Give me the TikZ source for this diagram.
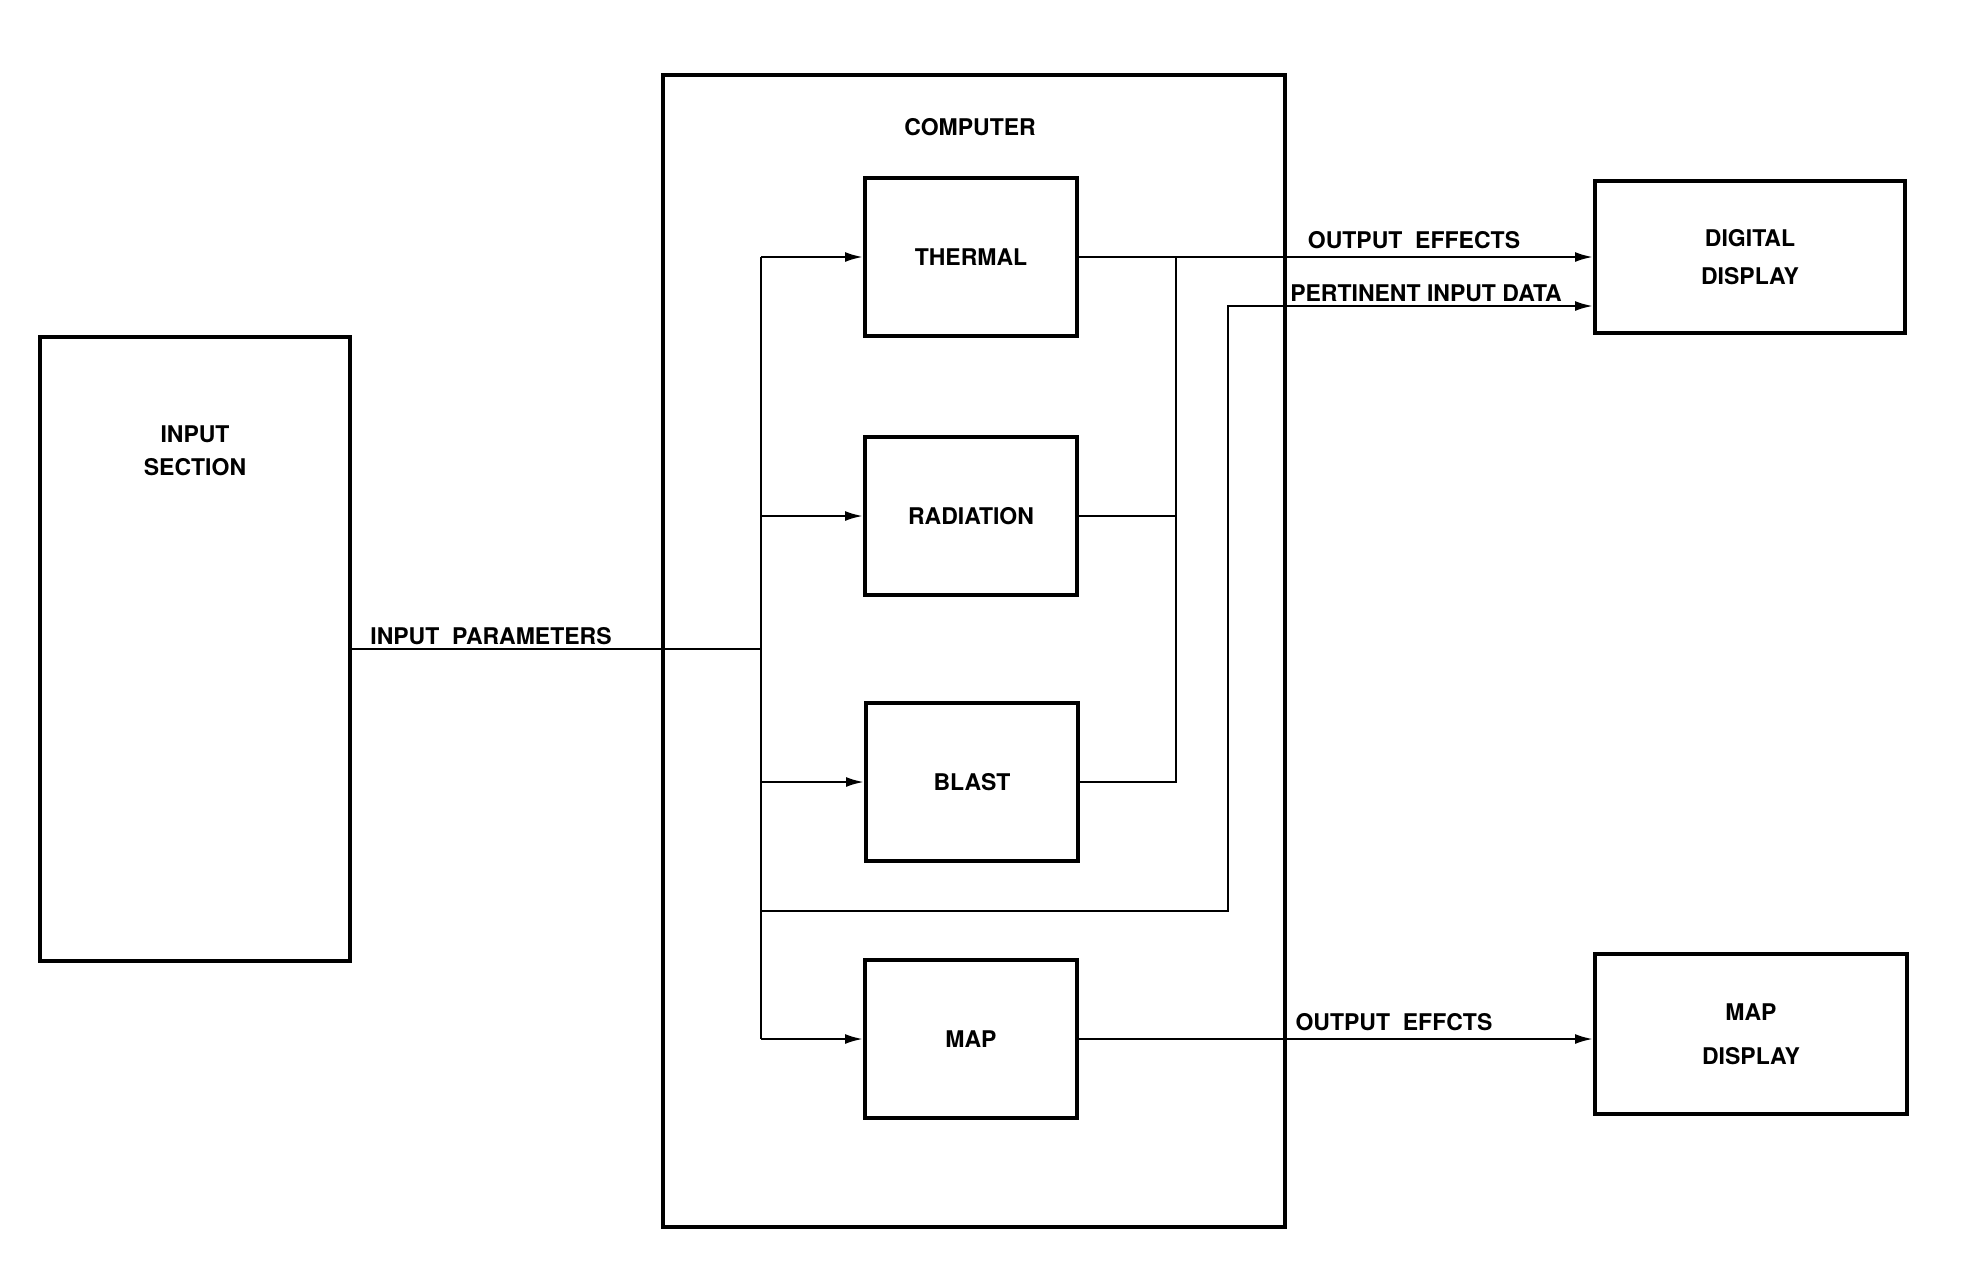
\documentclass[tikz,border=0pt]{standalone}
\usepackage{fontspec}
\setmainfont{TeX Gyre Heros}
\usetikzlibrary{arrows.meta}
\begin{document}
\begin{tikzpicture}[x=0.5pt,y=-0.5pt,
  box/.style={draw,line width=2pt,minimum width=106pt,minimum height=79pt,inner sep=0pt,font=\lbl},
  bigbox/.style={draw,line width=2pt,inner sep=0pt},
  conn/.style={line width=1.2pt},
  arr/.style={conn,-{Latex[length=9pt,width=5pt]}},
  txt/.style={font=\lbl,inner sep=0pt,align=center}]
\newcommand{\lbl}{\fontsize{11.5}{16.5}\selectfont\bfseries}
\useasboundingbox (0,0) rectangle (1972,1270);
% big boxes
\node[bigbox,minimum width=155pt,minimum height=312pt] (insec) at (195,649) {};
\node[bigbox,minimum width=311pt,minimum height=576pt] (comp) at (974,651) {};
\node[txt] (insecl) at (195,451) {INPUT\\SECTION};
\node[txt] (compl) at (970,127) {COMPUTER};
% inner boxes
\node[box] (thermal) at (971,257) {THERMAL};
\node[box] (rad) at (971,516) {RADIATION};
\node[box] (blast) at (972,782) {BLAST};
\node[box] (map) at (971,1039) {MAP};
% displays
\node[bigbox,minimum width=155pt,minimum height=76pt,font=\lbl,align=center] (dig) at (1750,257) {DIGITAL\\[2.5pt]DISPLAY};
\node[bigbox,minimum width=156pt,minimum height=80pt,font=\lbl,align=center] (mapd) at (1751,1034) {MAP\\[5.5pt]DISPLAY};
% coordinates
\coordinate (busT) at (761,257);
\coordinate (busM) at (761,649);
\coordinate (busB) at (761,1039);
\coordinate (rbT) at (1176,257);
\coordinate (rbB) at (1176,782);
\coordinate (pA) at (761,911);
\coordinate (pB) at (1228,911);
\coordinate (pC) at (1228,306);
% connectors
\draw[conn] (insec.east |- busM) -- (busM);
\draw[conn] (busT) -- (busB);
\draw[arr] (busT) -- (thermal.west);
\draw[arr] (busM |- rad.west) -- (rad.west);
\draw[arr] (busM |- blast.west) -- (blast.west);
\draw[arr] (busB) -- (map.west);
\draw[arr] (thermal.east) -- (dig.west |- thermal.east);
\draw[conn] (rad.east) -- (rad.east -| rbT);
\draw[conn] (blast.east) -- (rbB) -- (rbT);
\draw[arr] (pA) -- (pB) -- (pC) -- (pC -| dig.west);
\draw[arr] (map.east) -- (mapd.west |- map.east);
% labels
\node[txt,anchor=south] (l1) at (1414,249) {OUTPUT~ EFFECTS};
\node[txt,anchor=south] (l2) at (1426,302) {PERTINENT INPUT DATA};
\node[txt,anchor=south] (l3) at (1394,1031) {OUTPUT~ EFFCTS};
\node[txt,anchor=south] (l4) at (491,645) {INPUT~ PARAMETERS};
\end{tikzpicture}
\end{document}
